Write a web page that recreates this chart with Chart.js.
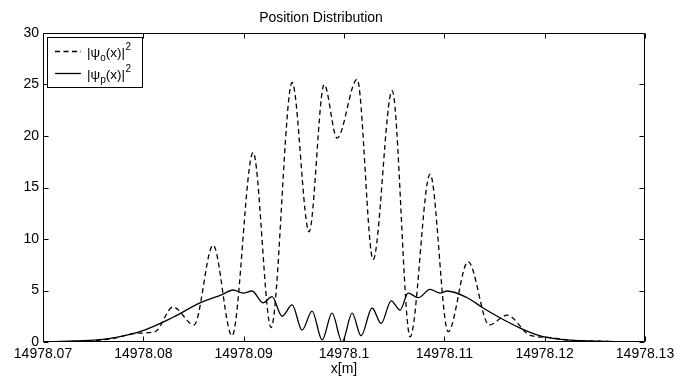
<!DOCTYPE html>
<html><head><meta charset="utf-8">
<script src="https://cdn.jsdelivr.net/npm/chart.js@4"></script>
<style>html,body{margin:0;padding:0;background:#fff}</style>
</head><body>
<canvas id="c" width="691" height="381" style="display:block;width:691px;height:381px"></canvas>
<script>
// ---- data ----
const chartTitle = 'Position Distribution';
const xAxisTitle = 'x[m]';
const xTickValues = [14978.07, 14978.08, 14978.09, 14978.10, 14978.11, 14978.12, 14978.13];
const xTickLabels = ['14978.07', '14978.08', '14978.09', '14978.1', '14978.11', '14978.12', '14978.13'];
const yTickValues = [0, 5, 10, 15, 20, 25, 30];
const yTickLabels = ['0', '5', '10', '15', '20', '25', '30'];
// legend labels: [base, subscript, middle, superscript]
const seriesOLabel = ['|\u03C8', 'o', '(x)|', '2'];
const seriesPLabel = ['|\u03C8', 'p', '(x)|', '2'];

const xO = [14978.07020, 14978.07369, 14978.07668, 14978.07937, 14978.08117, 14978.08296, 14978.08505,
  14978.08695, 14978.08884, 14978.09094, 14978.09273, 14978.09483, 14978.09652, 14978.09802, 14978.09931,
  14978.10131, 14978.10290, 14978.10480, 14978.10659, 14978.10858, 14978.11038, 14978.11237, 14978.11447,
  14978.11626, 14978.11855, 14978.12035, 14978.12224, 14978.12623, 14978.12803];
const yO = [0.0, 0.05, 0.3, 0.85, 1.0, 3.4, 1.65,
  9.4, 0.6, 18.4, 1.4, 25.2, 10.7, 25.0, 19.8,
  25.5, 8.0, 24.4, 0.5, 16.3, 1.0, 7.8, 1.65,
  2.6, 0.65, 0.45, 0.2, 0.05, 0.02];

const xP = [14978.07020, 14978.07299, 14978.07638, 14978.07967, 14978.08296, 14978.08565, 14978.08785,
  14978.08894, 14978.08994, 14978.09084, 14978.09193, 14978.09283, 14978.09383, 14978.09483, 14978.09582,
  14978.09682, 14978.09782, 14978.09881, 14978.09981, 14978.10081, 14978.10170, 14978.10280, 14978.10370,
  14978.10470, 14978.10559, 14978.10639, 14978.10739, 14978.10858, 14978.10958, 14978.11028, 14978.11227,
  14978.11387, 14978.11536, 14978.11756, 14978.11955, 14978.12224, 14978.12623, 14978.12803];
const yP = [0.0, 0.1, 0.3, 1.0, 2.4, 3.8, 4.6,
  5.05, 4.75, 4.95, 3.8, 4.4, 2.5, 3.6, 1.15,
  3.0, 0.2, 2.8, 0.0, 2.8, 0.6, 3.3, 1.8,
  4.0, 3.1, 4.75, 4.3, 5.1, 4.75, 4.95, 4.3,
  3.3, 2.45, 1.35, 0.6, 0.2, 0.05, 0.02];

const FONT = '"Liberation Sans", Arial, Helvetica, sans-serif';
const DASH = [5, 3.5];
const LW = 1.3;

const decor = {
  id: 'decor',
  afterDraw(chart) {
    const { ctx, chartArea: a, scales: { x, y } } = chart;
    ctx.save();
    // title
    ctx.fillStyle = '#000';
    ctx.font = '14px ' + FONT;
    ctx.textAlign = 'center';
    ctx.textBaseline = 'alphabetic';
    ctx.fillText(chartTitle, 321, 22);
    // axes box
    ctx.strokeStyle = '#000';
    ctx.lineWidth = 1;
    const L = Math.round(a.left) + 0.5, R = Math.round(a.right) - 0.5;
    const T = Math.round(a.top) + 0.5, B = Math.round(a.bottom) - 0.5;
    ctx.beginPath();
    ctx.rect(L, T, R - L, B - T);
    ctx.stroke();
    // inward ticks
    const tl = 5;
    ctx.beginPath();
    xTickValues.forEach(v => {
      const px = Math.round(x.getPixelForValue(v)) + 0.5;
      ctx.moveTo(px, B); ctx.lineTo(px, B - tl);
      ctx.moveTo(px, T); ctx.lineTo(px, T + tl);
    });
    yTickValues.forEach(v => {
      const py = Math.round(y.getPixelForValue(v)) + 0.5;
      ctx.moveTo(L, py); ctx.lineTo(L + tl, py);
      ctx.moveTo(R, py); ctx.lineTo(R - tl, py);
    });
    ctx.stroke();
    // legend
    const lx = 47.5, ly = 37.5, lw = 95, lh = 50;
    ctx.fillStyle = '#fff';
    ctx.fillRect(lx, ly, lw, lh);
    ctx.strokeRect(lx, ly, lw, lh);
    const rows = [[seriesOLabel, DASH, 51.5], [seriesPLabel, [], 73.5]];
    rows.forEach(([lab, dash, ry]) => {
      ctx.lineWidth = LW;
      ctx.setLineDash(dash);
      ctx.beginPath();
      ctx.moveTo(55, ry); ctx.lineTo(81, ry);
      ctx.stroke();
      ctx.setLineDash([]);
      ctx.fillStyle = '#000';
      ctx.textAlign = 'left';
      ctx.textBaseline = 'alphabetic';
      let tx = 87;
      const base = ry + 5;
      ctx.font = '13.5px ' + FONT;
      ctx.fillText(lab[0], tx, base); tx += ctx.measureText(lab[0]).width;
      ctx.font = '10px ' + FONT;
      ctx.fillText(lab[1], tx, base + 4); tx += ctx.measureText(lab[1]).width;
      ctx.font = '13.5px ' + FONT;
      ctx.fillText(lab[2], tx, base); tx += ctx.measureText(lab[2]).width;
      ctx.font = '10px ' + FONT;
      ctx.fillText(lab[3], tx + 0.5, base - 7);
    });
    ctx.restore();
  }
};

Chart.defaults.font.family = FONT;
Chart.defaults.font.size = 14;
Chart.defaults.color = '#000';

new Chart(document.getElementById('c'), {
  type: 'line',
  data: {
    datasets: [
      { label: seriesOLabel.join(''), data: xO.map((v, i) => ({ x: v, y: yO[i] })),
        borderColor: '#000', borderWidth: LW, borderDash: DASH, pointRadius: 0,
        cubicInterpolationMode: 'monotone', fill: false },
      { label: seriesPLabel.join(''), data: xP.map((v, i) => ({ x: v, y: yP[i] })),
        borderColor: '#000', borderWidth: LW, pointRadius: 0,
        cubicInterpolationMode: 'monotone', fill: false }
    ]
  },
  options: {
    responsive: false,
    animation: false,
    devicePixelRatio: 1,
    layout: { padding: { top: 33, right: 46, left: 0, bottom: 0 } },
    plugins: { legend: { display: false }, title: { display: false }, tooltip: { enabled: false } },
    scales: {
      x: {
        type: 'linear', min: 14978.07, max: 14978.13,
        afterBuildTicks(s) { s.ticks = xTickValues.map(v => ({ value: v })); },
        afterFit(s) { s.height = 39; s.paddingLeft = 0; s.paddingRight = 0; },
        ticks: { callback: (v, i) => xTickLabels[i], padding: 4, maxRotation: 0, autoSkip: false,
                 font: { size: 14 } },
        grid: { display: false, drawTicks: false },
        border: { display: false },
        title: { display: true, text: xAxisTitle, font: { size: 14 }, padding: { top: 0, bottom: 3 } }
      },
      y: {
        type: 'linear', min: 0, max: 30,
        afterBuildTicks(s) { s.ticks = yTickValues.map(v => ({ value: v })); },
        afterFit(s) { s.width = 43; s.paddingTop = 0; s.paddingBottom = 0; },
        ticks: { callback: (v, i) => yTickLabels[i], padding: 4, font: { size: 14 } },
        grid: { display: false, drawTicks: false },
        border: { display: false }
      }
    }
  },
  plugins: [decor]
});
</script>
</body></html>
